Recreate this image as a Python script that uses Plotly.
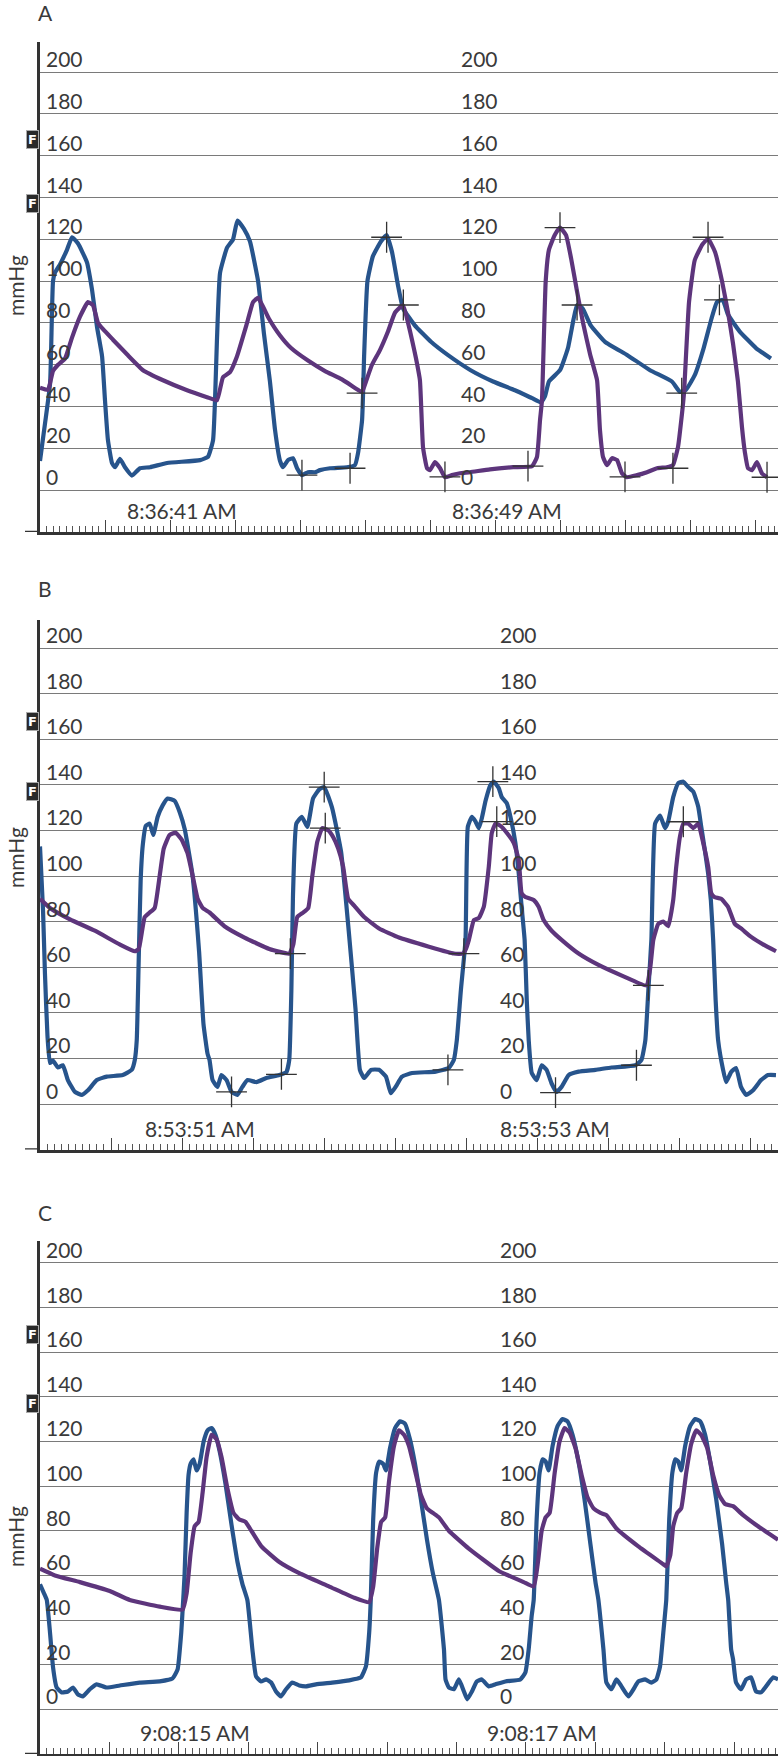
import plotly.graph_objects as go

# ---------------- data ----------------
Y_TICKS = [0, 20, 40, 60, 80, 100, 120, 140, 160, 180, 200]
F_MARKS = [168, 137]

# Panel A: (time s, pressure mmHg)
A_blue = [(0.000, 14), (0.031, 32), (0.062, 51), (0.080, 100), (0.092, 104), (0.123, 108), (0.166, 115),
          (0.197, 121), (0.234, 118), (0.289, 109), (0.320, 96), (0.351, 78), (0.382, 64), (0.400, 43),
          (0.418, 24), (0.443, 13), (0.462, 11), (0.492, 15), (0.523, 11), (0.566, 7), (0.615, 10.5),
          (0.677, 11), (0.782, 13), (0.985, 14.4), (1.034, 16), (1.065, 24), (1.077, 43), (1.089, 72),
          (1.108, 104), (1.151, 116), (1.188, 120), (1.215, 129), (1.255, 125), (1.292, 119), (1.342, 100),
          (1.378, 75), (1.415, 52), (1.446, 29), (1.477, 14), (1.495, 11), (1.526, 14.4), (1.557, 15.3),
          (1.582, 10.5), (1.612, 7.2), (1.649, 8.6), (1.692, 8.6), (1.723, 9.6), (1.785, 10.5), (1.889, 11),
          (1.938, 12), (1.957, 17.7), (1.982, 33.5), (1.988, 46), (1.994, 63), (2.015, 100), (2.049, 112),
          (2.098, 119), (2.133, 122), (2.166, 114), (2.203, 98), (2.234, 87), (2.305, 79), (2.406, 71),
          (2.511, 64.6), (2.650, 57.4), (2.788, 52), (2.923, 47.8), (3.028, 44), (3.083, 42), (3.108, 45),
          (3.132, 52), (3.200, 57.4), (3.249, 68), (3.284, 82), (3.305, 88.5), (3.339, 87), (3.388, 79),
          (3.477, 71), (3.615, 64.6), (3.754, 57.4), (3.889, 52), (3.938, 47), (3.975, 48), (4.029, 55),
          (4.084, 68), (4.132, 82), (4.166, 90), (4.201, 91), (4.234, 84), (4.305, 76), (4.406, 68),
          (4.498, 63)]
A_purple = [(0.000, 49), (0.049, 48), (0.080, 57), (0.111, 60), (0.154, 63), (0.197, 73), (0.246, 83),
            (0.295, 90), (0.326, 88.5), (0.357, 80), (0.388, 77), (0.449, 72), (0.535, 65), (0.634, 57.4),
            (0.757, 52.6), (0.905, 47.8), (1.028, 44.5), (1.089, 43), (1.126, 54), (1.169, 56.5),
            (1.212, 64), (1.274, 80), (1.311, 90), (1.342, 92), (1.409, 82), (1.477, 74), (1.545, 68),
            (1.649, 62), (1.754, 57), (1.858, 53), (1.957, 48), (1.982, 47), (2.006, 52), (2.043, 60),
            (2.092, 67), (2.142, 76), (2.185, 85), (2.234, 88.5), (2.265, 80), (2.289, 72), (2.314, 63),
            (2.338, 52.6), (2.357, 20.6), (2.382, 10.5), (2.400, 9.6), (2.431, 13.4), (2.462, 10.5),
            (2.492, 6.2), (2.535, 7.2), (2.585, 8.1), (2.646, 8.6), (2.769, 10), (2.911, 11), (3.028, 11.5),
            (3.058, 15.8), (3.077, 33.5), (3.089, 43), (3.112, 100), (3.132, 115), (3.167, 122),
            (3.200, 125.6), (3.237, 122), (3.268, 111), (3.305, 95), (3.342, 80), (3.385, 65),
            (3.428, 52.6), (3.446, 28.7), (3.465, 15.8), (3.489, 12), (3.520, 15.3), (3.551, 14.4),
            (3.582, 8), (3.612, 6.2), (3.674, 7.2), (3.735, 8.6), (3.797, 10.5), (3.858, 11), (3.895, 12),
            (3.926, 20.6), (3.951, 36.8), (3.963, 46.4), (3.994, 90), (4.029, 110), (4.077, 117.7),
            (4.111, 120.2), (4.154, 114), (4.197, 100), (4.234, 85), (4.265, 70), (4.295, 52),
            (4.320, 30), (4.338, 18), (4.357, 10.5), (4.382, 9.6), (4.412, 13.4), (4.443, 8),
            (4.474, 6.2)]
A_marks = [(1.612, 7.2), (1.908, 10.5), (1.982, 46.4), (2.133, 121), (2.236, 88.6), (2.492, 6.4),
           (3.003, 11.5), (3.200, 125.6), (3.305, 88.6), (3.600, 6.4), (3.895, 10.5), (3.949, 46.4),
           (4.111, 121), (4.181, 91), (4.474, 6.2)]
A_times = ["8:36:41 AM", "8:36:49 AM"]
A_time_t = [1.2, 3.2]

# Panel B
B_blue = [(0.000, 113), (0.017, 85), (0.028, 57), (0.042, 30), (0.056, 18), (0.073, 19), (0.101, 16),
          (0.129, 17), (0.157, 10.5), (0.197, 5.3), (0.236, 4), (0.270, 6), (0.320, 10.5), (0.376, 12),
          (0.466, 12.7), (0.517, 15), (0.534, 19.3), (0.545, 28), (0.556, 63), (0.567, 98), (0.579, 113.6),
          (0.596, 122), (0.618, 123), (0.638, 118), (0.663, 126), (0.691, 131), (0.719, 134), (0.758, 133),
          (0.787, 128), (0.815, 120.6), (0.858, 101), (0.896, 67), (0.921, 35), (0.944, 22), (0.955, 19.3),
          (0.972, 10.5), (1.000, 7.5), (1.022, 12.7), (1.051, 10.5), (1.079, 5.3), (1.112, 4), (1.140, 7.5),
          (1.169, 10.5), (1.219, 9.6), (1.275, 11.4), (1.348, 12.7), (1.388, 14), (1.404, 19.3), (1.416, 50),
          (1.425, 91), (1.444, 123), (1.475, 126), (1.506, 121.5), (1.538, 134), (1.573, 138), (1.601, 139),
          (1.645, 130), (1.696, 110.7), (1.739, 76), (1.777, 42), (1.802, 15), (1.826, 11.4), (1.865, 15),
          (1.910, 15), (1.949, 12), (1.976, 4.7), (2.004, 7.6), (2.039, 12), (2.096, 13.6), (2.229, 14.2),
          (2.303, 15.8), (2.331, 19.3), (2.348, 28), (2.371, 50), (2.397, 72), (2.410, 121.6), (2.433, 126),
          (2.453, 124), (2.472, 121), (2.489, 125.4), (2.510, 133), (2.538, 140), (2.556, 141.4),
          (2.584, 138.6), (2.601, 134.6), (2.629, 132), (2.650, 126), (2.678, 114.5), (2.697, 101),
          (2.713, 86.5), (2.730, 72), (2.742, 45.6), (2.753, 28), (2.770, 13.6), (2.798, 10.5), (2.826, 17),
          (2.854, 15), (2.882, 9), (2.910, 5.3), (2.938, 7.5), (2.978, 12.7), (3.034, 14.2), (3.129, 15),
          (3.219, 16), (3.354, 17), (3.388, 19.3), (3.410, 28), (3.427, 50), (3.444, 72), (3.465, 123),
          (3.493, 126.5), (3.521, 121), (3.539, 124), (3.567, 134.6), (3.596, 140.8), (3.624, 141.4),
          (3.652, 139), (3.680, 137), (3.708, 130.4), (3.725, 121.6), (3.745, 111.4), (3.764, 101),
          (3.779, 89.5), (3.792, 72), (3.806, 45.6), (3.820, 28), (3.848, 15), (3.865, 9.6), (3.893, 14),
          (3.921, 15.8), (3.949, 7.5), (3.978, 4), (4.017, 6), (4.062, 10.5), (4.101, 12.7), (4.146, 12.7)]
B_purple = [(0.000, 90), (0.056, 86), (0.169, 81), (0.309, 76), (0.449, 70), (0.534, 67), (0.556, 68),
            (0.573, 75), (0.590, 82), (0.618, 84), (0.646, 86), (0.674, 100), (0.697, 112), (0.730, 118),
            (0.764, 119), (0.798, 116), (0.831, 110), (0.860, 100), (0.888, 90), (0.916, 86), (0.955, 84),
            (1.039, 78), (1.152, 73), (1.292, 68), (1.404, 66), (1.427, 70), (1.449, 82), (1.483, 84),
            (1.511, 86), (1.534, 100), (1.562, 115), (1.590, 121), (1.624, 120), (1.652, 117), (1.680, 112),
            (1.708, 104), (1.736, 90), (1.770, 87), (1.826, 82), (1.910, 77), (2.022, 73), (2.191, 69),
            (2.331, 66), (2.382, 66), (2.399, 68), (2.416, 72), (2.444, 80.7), (2.472, 81.6), (2.500, 86.5),
            (2.528, 104), (2.545, 118.9), (2.566, 123), (2.594, 122), (2.629, 119), (2.669, 114.5),
            (2.697, 107), (2.713, 92.5), (2.734, 90.8), (2.781, 89.5), (2.809, 86.5), (2.837, 80.7),
            (2.882, 76), (2.938, 72), (3.034, 66), (3.146, 61), (3.287, 56), (3.416, 52), (3.438, 60),
            (3.455, 72), (3.483, 79), (3.511, 80), (3.539, 78), (3.567, 89.5), (3.584, 104), (3.605, 117.3),
            (3.624, 123), (3.652, 123), (3.680, 121), (3.708, 123), (3.736, 114.5), (3.764, 104),
            (3.781, 92.5), (3.799, 90.8), (3.837, 90), (3.876, 86.5), (3.914, 79), (3.949, 77),
            (4.006, 73.3), (4.073, 70), (4.146, 67)]
B_marks = [(1.079, 5.3), (1.360, 13), (1.410, 66), (1.601, 139), (1.607, 121), (2.298, 15), (2.388, 66),
           (2.551, 141.4), (2.573, 123.9), (2.904, 5), (3.360, 17), (3.427, 52), (3.624, 123.8)]
B_times = ["8:53:51 AM", "8:53:53 AM"]
B_time_t = [1.2, 3.2]

# Panel C
C_blue = [(0.000, 56), (0.023, 52), (0.039, 49), (0.057, 35), (0.075, 19), (0.096, 9.8), (0.125, 7.6),
          (0.161, 8), (0.190, 9.8), (0.218, 6.7), (0.247, 5.8), (0.287, 9), (0.326, 11.2), (0.383, 9.8),
          (0.460, 10.7), (0.575, 12), (0.690, 12.5), (0.764, 13.9), (0.793, 17.9), (0.814, 34.4),
          (0.822, 44.7), (0.833, 60), (0.845, 88), (0.856, 105), (0.868, 110), (0.885, 112), (0.902, 107),
          (0.920, 110), (0.943, 120), (0.966, 125), (0.989, 126), (1.011, 123), (1.034, 116), (1.069, 101),
          (1.103, 83), (1.138, 66), (1.167, 56), (1.195, 49), (1.224, 26.8), (1.245, 14.8), (1.274, 12.5),
          (1.303, 13.4), (1.332, 12), (1.360, 8), (1.389, 5.8), (1.418, 9), (1.454, 12), (1.494, 10.7),
          (1.533, 10.3), (1.590, 11.2), (1.684, 12), (1.782, 13), (1.849, 14.3), (1.878, 19.2), (1.897, 34.4),
          (1.906, 49), (1.920, 85), (1.937, 106), (1.954, 111), (1.977, 110), (1.994, 107), (2.017, 117),
          (2.046, 126), (2.075, 129), (2.103, 128), (2.132, 121), (2.161, 110), (2.195, 94), (2.230, 76),
          (2.264, 61), (2.299, 49), (2.328, 26.8), (2.337, 13.4), (2.356, 9.8), (2.385, 9), (2.414, 13.4),
          (2.443, 8), (2.462, 4.5), (2.489, 8), (2.517, 12.5), (2.546, 13.4), (2.586, 10.3), (2.625, 11.2),
          (2.682, 12.5), (2.768, 13.4), (2.797, 16.5), (2.816, 26.8), (2.833, 41.6), (2.845, 49), (2.862, 85),
          (2.879, 106), (2.897, 112), (2.914, 111), (2.931, 107), (2.954, 118), (2.983, 127), (3.011, 130),
          (3.040, 129), (3.069, 123), (3.103, 111), (3.138, 94), (3.172, 74), (3.201, 57), (3.218, 49),
          (3.247, 26.8), (3.264, 12), (3.293, 9), (3.322, 13.4), (3.351, 10.3), (3.391, 5.8), (3.420, 9),
          (3.448, 12.5), (3.487, 13.4), (3.523, 12), (3.552, 13.4), (3.573, 19.2), (3.592, 34.4),
          (3.609, 49), (3.626, 85), (3.644, 106), (3.661, 112), (3.678, 111), (3.695, 107), (3.718, 118),
          (3.747, 127), (3.776, 130), (3.805, 129), (3.833, 123), (3.862, 111), (3.897, 94), (3.931, 74),
          (3.954, 57), (3.966, 49), (3.983, 26.8), (3.994, 22.4), (4.011, 12), (4.040, 9), (4.069, 13.4),
          (4.098, 14.3), (4.126, 8), (4.155, 7.6), (4.184, 10.3), (4.224, 14.3), (4.253, 13.4)]
C_purple = [(0.000, 63), (0.086, 60), (0.230, 57), (0.402, 53), (0.517, 49), (0.690, 46), (0.822, 44.7),
            (0.845, 52), (0.868, 70), (0.891, 82), (0.914, 84), (0.937, 97), (0.960, 113), (0.989, 123),
            (1.017, 121), (1.046, 113), (1.080, 99), (1.115, 88), (1.149, 85), (1.184, 84), (1.218, 80),
            (1.276, 73), (1.379, 66), (1.494, 61), (1.667, 55), (1.810, 50), (1.897, 48), (1.920, 55),
            (1.943, 72), (1.966, 84), (1.989, 86), (2.011, 102), (2.040, 118), (2.069, 125), (2.098, 123),
            (2.126, 118), (2.161, 107), (2.195, 96), (2.230, 90), (2.264, 88), (2.299, 86), (2.356, 80),
            (2.471, 72), (2.644, 62), (2.787, 57), (2.845, 55), (2.868, 65), (2.891, 80), (2.914, 86),
            (2.937, 88), (2.966, 106), (2.994, 120), (3.023, 126), (3.052, 124), (3.086, 117), (3.121, 105),
            (3.155, 95), (3.190, 90), (3.230, 88), (3.264, 87), (3.322, 81), (3.448, 73), (3.592, 65),
            (3.609, 64), (3.632, 69), (3.649, 82), (3.672, 88), (3.695, 90), (3.724, 106), (3.753, 119),
            (3.782, 125), (3.810, 123), (3.845, 117), (3.879, 105), (3.914, 96), (3.948, 92), (3.994, 91),
            (4.052, 87), (4.138, 82), (4.253, 76)]
C_marks = []
C_times = ["9:08:15 AM", "9:08:17 AM"]
C_time_t = [1.2, 3.2]

# ---------------- styling ----------------
W, H = 781, 1756
BLUE = "#27548c"
PURPLE = "#5d357c"
TXT = "#3a3a3a"
FONT = "Lato"
X0, X1 = 40, 778  # plot area x pixels


def split(pairs):
    return [a for a, _ in pairs], [b for _, b in pairs]


panels = [
    dict(name="A", blue=A_blue, purple=A_purple, marks=A_marks, times=A_times, time_t=A_time_t,
         top=42, bot=532, yr=[-20, 214.4], xr=[0, 4.5415], mid=463, letter_y=13, mm_y=286),
    dict(name="B", blue=B_blue, purple=B_purple, marks=B_marks, times=B_times, time_t=B_time_t,
         top=620, bot=1149.6, yr=[-20, 212.3], xr=[0, 4.1573], mid=502, letter_y=588, mm_y=858),
    dict(name="C", blue=C_blue, purple=C_purple, marks=C_marks, times=C_times, time_t=C_time_t,
         top=1241, bot=1754, yr=[-20, 209.8], xr=[0, 4.2529], mid=502, letter_y=1212, mm_y=1537),
]

fig = go.Figure()
annotations = []
shapes = []
layout = dict(width=W, height=H, margin=dict(l=0, r=0, t=0, b=0),
              paper_bgcolor="white", plot_bgcolor="white", showlegend=False, hovermode=False)

for i, p in enumerate(panels):
    k = "" if i == 0 else str(i + 1)
    xa, ya = "x" + k, "y" + k
    ydom = [1 - p["bot"] / H, 1 - p["top"] / H]
    layout["xaxis" + k] = dict(
        domain=[X0 / W, X1 / W], range=p["xr"], anchor=ya,
        showgrid=False, zeroline=False, showline=True, linecolor="#333", linewidth=2.5,
        ticks="inside", ticklen=12, tickwidth=1.4, tickcolor="#444",
        tick0=0, dtick=0.4, showticklabels=False,
        minor=dict(ticks="inside", ticklen=6, tickwidth=1, tickcolor="#555", dtick=0.04, showgrid=False),
        fixedrange=True)
    layout["yaxis" + k] = dict(
        domain=ydom, range=p["yr"], anchor=xa,
        tickmode="array", tickvals=Y_TICKS, showticklabels=False, ticks="",
        showgrid=True, gridcolor="#7a7a7a", gridwidth=1, zeroline=False,
        showline=True, linecolor="#333", linewidth=2.5, fixedrange=True)

    bt, bp = split(p["blue"])
    pt, pp = split(p["purple"])
    fig.add_trace(go.Scatter(x=bt, y=bp, mode="lines", xaxis=xa, yaxis=ya,
                             line=dict(color=BLUE, width=4.2, shape="spline", smoothing=0.4)))
    fig.add_trace(go.Scatter(x=pt, y=pp, mode="lines", xaxis=xa, yaxis=ya,
                             line=dict(color=PURPLE, width=4.2, shape="spline", smoothing=0.4)))
    if p["marks"]:
        mt, mp = split(p["marks"])
        fig.add_trace(go.Scatter(x=mt, y=mp, mode="markers", xaxis=xa, yaxis=ya,
                                 marker=dict(symbol="cross-thin", size=22,
                                             line=dict(color="#333", width=1.3))))

    # y tick labels (left and middle columns), sitting above gridlines
    for v in Y_TICKS:
        for xpix in (48, p["mid"]):
            annotations.append(dict(
                xref=xa + " domain", yref=ya, x=(xpix - 4 - X0) / (X1 - X0), y=v,
                text=str(v), showarrow=False, xanchor="left", yanchor="bottom", yshift=-1,
                font=dict(family=FONT, size=21, color=TXT)))
    # time labels above x axis, right edge at major tick
    for txt, tt in zip(p["times"], p["time_t"]):
        annotations.append(dict(
            xref=xa, yref=ya, x=tt, y=p["yr"][0], text=txt, showarrow=False,
            xanchor="right", yanchor="bottom", yshift=7, xshift=4,
            font=dict(family=FONT, size=21, color=TXT)))
    # F markers at left of y axis
    for fv in F_MARKS:
        annotations.append(dict(
            xref=xa + " domain", yref=ya, x=-1.5 / (X1 - X0), y=fv, text="<b>F</b>",
            showarrow=False, xanchor="right", yanchor="middle",
            bgcolor="#2a2a2a", bordercolor="#aaa", borderwidth=1, borderpad=1,
            font=dict(family="DejaVu Sans", size=13, color="white")))
    # panel letter
    annotations.append(dict(xref="paper", yref="paper", x=36 / W, y=1 - p["letter_y"] / H,
                            text=p["name"], showarrow=False, xanchor="left", yanchor="middle",
                            font=dict(family=FONT, size=21, color=TXT)))
    # mmHg label
    annotations.append(dict(xref="paper", yref="paper", x=15 / W, y=1 - p["mm_y"] / H,
                            text="mmHg", showarrow=False, textangle=-90,
                            xanchor="center", yanchor="middle",
                            font=dict(family=FONT, size=21, color=TXT)))
    # x axis line extends left of the y axis
    shapes.append(dict(type="line", xref=xa + " domain", yref=ya,
                       x0=-15 / (X1 - X0), x1=0, y0=p["yr"][0], y1=p["yr"][0],
                       line=dict(color="#333", width=2.5)))

layout["annotations"] = annotations
layout["shapes"] = shapes
fig.update_layout(**layout)
fig.write_html("out.html", config={"displayModeBar": False},
               post_script="document.body.style.margin='0px';document.body.style.overflow='hidden';")
